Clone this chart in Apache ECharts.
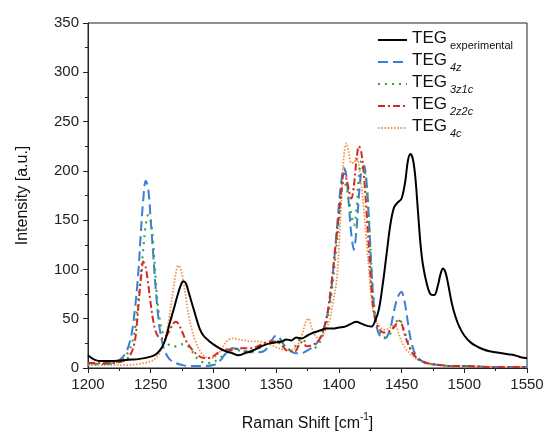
<!DOCTYPE html>
<html>
<head>
<meta charset="utf-8">
<script src="https://cdn.jsdelivr.net/npm/echarts@6/dist/echarts.min.js"></script>
<style>
html,body{margin:0;padding:0;background:#fff;}
#chart{width:547px;height:437px;}
</style>
</head>
<body>
<div id="chart"></div>
<script>
// ---- Data ----
var seriesNames = ['experimental', '4z', '3z1c', '2z2c', '4c'];
var xTicks = [1200, 1250, 1300, 1350, 1400, 1450, 1500, 1550];
var yTicks = [0, 50, 100, 150, 200, 250, 300, 350];

var expX = [1200,1203,1206,1210,1215,1220,1225,1230,1235,1240,1245,1250,1253,1256,1259,1262,1265,1268,1271,1274,1276,1278,1280,1283,1286,1289,1292,1296,1300,1305,1310,1315,1320,1325,1330,1335,1340,1345,1350,1355,1358,1362,1366,1370,1375,1380,1385,1390,1395,1400,1405,1410,1414,1418,1422,1426,1429,1432,1435,1438,1441,1444,1447,1450,1453,1455,1457,1459,1461,1463,1465,1467,1470,1473,1476,1479,1481,1483,1485,1487,1490,1493,1496,1500,1505,1510,1515,1520,1525,1530,1535,1540,1545,1550];
var expY = [13,10,8,7,7,7,7.5,8,8.5,9,10,11.5,13,16,21,30,45,58,72,84,88,86,78,65,52,40,33,28,24,20,17,15,13,15,17,20,23,25,26,27,29,28,31,30,33,36,38,40,40,41,42,45,47,45,43,42,48,60,85,115,145,163,168,172,190,210,217,212,193,160,127,105,86,75,74,84,95,101,97,86,66,52,42,33,26,22,19,17,16,15,14,13,11,10];

var z4X = [1200,1210,1220,1225,1230,1234,1237,1240,1242,1244,1246,1248,1250,1252,1254,1256,1258,1261,1265,1270,1275,1280,1290,1300,1305,1310,1315,1320,1325,1330,1335,1340,1344,1347,1350,1353,1356,1360,1365,1370,1375,1380,1385,1388,1391,1394,1397,1400,1402,1404,1406,1408,1410,1412,1414,1416,1418,1420,1422,1424,1426,1428,1430,1433,1436,1438,1441,1444,1447,1450,1452,1454,1456,1458,1461,1465,1470,1480,1490,1500,1520,1550];
var z4Y = [5,4,5,8,15,30,55,95,135,170,190,182,150,115,80,52,33,18,9,5,3,2,2,3,7,15,20,19,17,16,16,17,22,29,33,30,24,19,15,15,18,22,30,40,55,80,120,165,190,203,195,165,135,120,140,175,200,205,190,150,100,62,42,32,30,31,40,58,72,77,70,55,38,25,14,8,5,3,2,2,1,1];

var z3c1X = [1200,1210,1220,1225,1230,1235,1238,1241,1244,1246,1248,1250,1252,1254,1256,1259,1263,1267,1271,1275,1279,1283,1287,1291,1295,1300,1305,1310,1315,1320,1325,1330,1335,1340,1345,1350,1355,1360,1365,1370,1375,1380,1385,1390,1394,1397,1400,1402,1404,1407,1410,1412,1414,1416,1418,1420,1422,1424,1426,1428,1430,1433,1436,1440,1443,1446,1448,1450,1452,1455,1458,1462,1466,1470,1480,1490,1500,1520,1550];
var z3c1Y = [4,4,5,7,12,25,45,80,120,145,155,150,125,90,60,38,26,22,22,24,23,17,10,6,5,6,10,15,20,18,17,17,19,23,27,28,24,19,22,30,24,20,27,45,75,110,150,175,190,178,155,145,160,195,210,205,185,150,100,65,45,35,31,33,40,47,50,46,38,27,17,10,7,5,3,2,2,1,1];

var z2c2X = [1200,1210,1220,1225,1230,1234,1237,1239,1241,1243,1244,1246,1248,1250,1252,1254,1256,1259,1262,1265,1268,1270,1272,1275,1278,1281,1285,1290,1295,1300,1305,1310,1315,1320,1325,1330,1335,1340,1345,1350,1355,1360,1365,1370,1375,1380,1385,1390,1394,1397,1400,1402,1404,1406,1408,1410,1412,1414,1416,1418,1420,1422,1424,1426,1428,1430,1433,1436,1440,1443,1446,1448,1450,1453,1456,1460,1465,1470,1480,1490,1500,1520,1550];
var z2c2Y = [5,5,5,6,8,14,25,45,75,100,108,102,85,65,48,37,32,30,32,38,45,47,45,37,28,22,16,11,10,12,17,19,18,20,20,20,22,25,27,27,22,17,17,26,22,24,30,50,85,120,155,180,197,192,180,172,185,210,225,218,195,160,120,80,55,45,38,36,37,40,45,48,45,32,22,13,8,5,3,2,2,1,1];

var c4X = [1200,1210,1220,1230,1240,1248,1253,1257,1261,1264,1266,1268,1270,1272,1274,1276,1278,1280,1283,1286,1290,1294,1298,1302,1306,1310,1315,1320,1325,1330,1335,1340,1345,1350,1355,1360,1365,1368,1371,1374,1376,1378,1381,1384,1387,1390,1393,1395,1398,1400,1402,1404,1406,1408,1410,1412,1414,1416,1418,1420,1422,1424,1426,1428,1430,1433,1436,1440,1443,1446,1449,1452,1455,1460,1465,1470,1480,1490,1500,1520,1550];
var c4Y = [3,3,3,3,4,6,9,15,28,45,62,80,96,104,100,88,72,55,38,26,16,11,10,12,18,26,30,29,28,27,27,26,24,21,19,18,20,25,35,48,50,42,33,30,33,40,50,65,86,120,170,215,228,218,208,208,214,205,185,160,130,100,70,55,47,41,39,40,43,41,30,22,17,11,7,5,3,2,2,1,1];

function pairs(xs, ys) { return xs.map(function (x, i) { return [x, ys[i]]; }); }

var chart = echarts.init(document.getElementById('chart'), null, {renderer: 'canvas'});

var font = 'Liberation Sans, Arial, sans-serif';

function mk(name, xs, ys, color, type, width, z) {
  return {
    name: name,
    type: 'line',
    data: pairs(xs, ys),
    showSymbol: false,
    symbol: 'none',
    smooth: 0.35,
    z: z,
    lineStyle: {color: color, width: width, type: type},
    itemStyle: {color: color}
  };
}

var option = {
  animation: false,
  backgroundColor: '#fff',
  grid: {left: 88, right: 20, top: 23, bottom: 64, show: true, borderColor: '#222', borderWidth: 1, containLabel: false},
  legend: {
    show: true,
    orient: 'vertical',
    left: 372,
    top: 25,
    itemWidth: 29,
    itemHeight: 14,
    itemGap: 1,
    itemStyle: {opacity: 0, borderWidth: 0},
    data: seriesNames,
    formatter: function (n) {
      var sty = n === 'experimental' ? 'b' : 'c';
      return '{a|TEG}{' + sty + '| ' + n + '}';
    },
    textStyle: {
      fontFamily: font,
      fontSize: 17,
      color: '#111',
      rich: {
        a: {fontSize: 17, fontFamily: font, color: '#111', lineHeight: 20, verticalAlign: 'top'},
        b: {fontSize: 11, fontFamily: font, color: '#111', lineHeight: 12, padding: [10, 0, 0, 0], verticalAlign: 'top'},
        c: {fontSize: 11, fontFamily: font, fontStyle: 'italic', color: '#111', lineHeight: 12, padding: [10, 0, 0, 0], verticalAlign: 'top'}
      }
    }
  },
  xAxis: {
    type: 'value',
    min: xTicks[0],
    max: xTicks[xTicks.length - 1],
    interval: 50,
    name: '{a|Raman Shift [cm}{s|-1}{a|]}',
    nameLocation: 'middle',
    nameGap: 44,
    nameTextStyle: {
      rich: {
        a: {fontSize: 16, fontFamily: font, color: '#111', lineHeight: 20, verticalAlign: 'bottom'},
        s: {fontSize: 10, fontFamily: font, color: '#111', lineHeight: 20, verticalAlign: 'top', padding: [0, 0, 8, 0]}
      }
    },
    axisLine: {show: true, onZero: false, lineStyle: {color: '#222', width: 1}},
    axisTick: {show: true, inside: false, length: 5, lineStyle: {color: '#222'}},
    minorTick: {show: true, splitNumber: 2, length: 3, lineStyle: {color: '#222'}},
    splitLine: {show: false},
    axisLabel: {fontSize: 15, fontFamily: font, color: '#222', margin: 9, formatter: function (v) { return String(v); }}
  },
  yAxis: {
    type: 'value',
    min: yTicks[0],
    max: yTicks[yTicks.length - 1],
    interval: 50,
    name: 'Intensity [a.u.]',
    nameLocation: 'middle',
    nameGap: 57,
    nameTextStyle: {fontSize: 16, fontFamily: font, color: '#111'},
    axisLine: {show: true, onZero: false, lineStyle: {color: '#222', width: 1}},
    axisTick: {show: true, inside: false, length: 5, lineStyle: {color: '#222'}},
    minorTick: {show: true, splitNumber: 2, length: 3, lineStyle: {color: '#222'}},
    splitLine: {show: false},
    axisLabel: {fontSize: 15, fontFamily: font, color: '#222', margin: 9, formatter: function (v) { return String(v); }}
  },
  series: [
    mk('experimental', expX, expY, '#000000', 'solid', 2, 10),
    mk('4z', z4X, z4Y, '#3b7dd8', [10, 5], 2, 5),
    mk('3z1c', z3c1X, z3c1Y, '#3aa53a', [2, 5], 2.2, 6),
    mk('2z2c', z2c2X, z2c2Y, '#d42a20', [7, 3, 2, 3], 2, 7),
    mk('4c', c4X, c4Y, '#f4954f', [1.6, 1.6], 1.8, 4)
  ]
};
chart.setOption(option);
</script>
</body>
</html>
